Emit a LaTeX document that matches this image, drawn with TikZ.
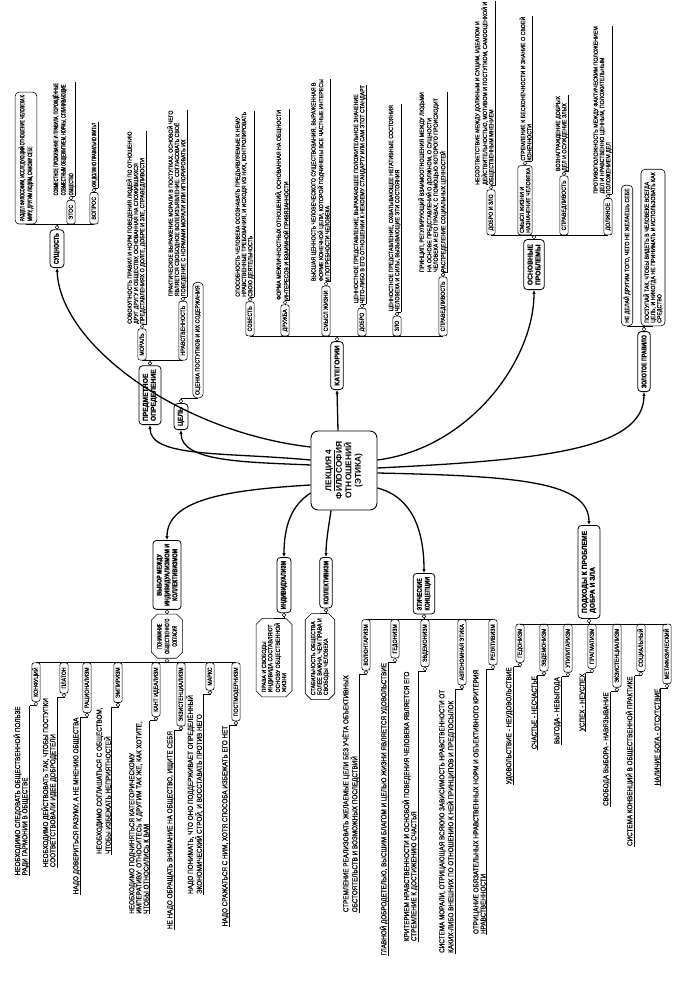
\documentclass[tikz,border=0pt]{standalone}
\usepackage{fontspec}
\setmainfont{Liberation Sans}
\newfontfamily\bfont{Liberation Sans Bold}[FakeStretch=0.75, FakeBold=1.2]
\newfontfamily\wfont{Liberation Sans Bold}[FakeStretch=0.95, FakeBold=1.0]
\newfontfamily\nfont{Liberation Sans}[FakeStretch=0.88, FakeBold=0.6]
\newfontfamily\qfont{Liberation Sans}[FakeStretch=0.6, FakeBold=0.6]
\usetikzlibrary{calc,shapes.misc,arrows.meta}
\newcommand{\fsm}{\nfont\fontsize{6}{6.3}\selectfont}
\newcommand{\fsl}{\nfont\fontsize{7.2}{7.2}\selectfont}
\newcommand{\fsq}{\qfont\fontsize{6.4}{7.6}\selectfont}
\newcommand{\fmid}{\bfont\fontsize{7}{7.8}\selectfont}
\newcommand{\fmidw}{\wfont\fontsize{7.1}{7.9}\selectfont}
\newcommand{\fbig}{\bfseries\fontsize{8.4}{9.5}\selectfont}
\tikzset{
  every node/.style={rotate=90},
  ln/.style={line width=0.55pt},
  knob/.style={line width=0.45pt, fill=white},
  lf/.style={font=\fsm, align=left, inner xsep=0.5pt, inner ysep=0.7pt},
  lfl/.style={font=\fsl, align=left, inner xsep=0.5pt, inner ysep=0.7pt},
  lfq/.style={font=\fsq, align=left, inner xsep=0.5pt, inner ysep=0.7pt},
  curleaf/.style={lf},
  sb/.style={draw, line width=0.6pt, rounded corners=2.2pt, font=\fsm, inner xsep=4.5pt, inner ysep=1.6pt, text height=4.3pt, text depth=0.7pt},
  sbm/.style={draw, line width=0.6pt, rounded corners=2.5pt, font=\fsm, align=left, inner xsep=2pt, inner ysep=1.8pt},
  tbox/.style={draw, line width=0.6pt, rounded corners=4pt, font=\fsm, align=left, inner xsep=3pt, inner ysep=2.4pt},
  chbox/.style={draw, line width=0.6pt, chamfered rectangle, chamfered rectangle xsep=2.5pt, font=\fsm, align=left, inner xsep=2pt, inner ysep=2.2pt},
  mb/.style={draw, line width=0.8pt, rounded corners=3.5pt, font=\fmid, align=left, inner xsep=3.5pt, inner ysep=3.8pt},
  mbw/.style={draw, line width=0.8pt, rounded corners=3.5pt, font=\fmidw, align=left, inner xsep=3.5pt, inner ysep=3.8pt},
  hub/.style={draw, line width=0.9pt, rounded corners=7pt, font=\fbig, align=center, minimum width=79pt, minimum height=66pt},
  conn/.style={line width=1.3pt, -{Latex[length=3.8pt,width=3.4pt]}},
}
% right-side child with leaf: style, name, bus, dx, label, leaf
\newcommand{\RC}[6]{%
  \node[#1, anchor=west] (#2) at ($(#3)+(#4,0)$) {#5};
  \node[curleaf, anchor=south west] (#2L) at ($(#2.south east)+(0,-4)$) {#6};
  \draw[ln] (#2L.south west) -- (#2L.south east);
  \draw[ln] (#2.east) |- (#2L.south west);
  \draw[knob] ($(#2.east)+(0,-2)$) circle (1.9pt);
}
% left-side child with leaf
\newcommand{\LC}[6]{%
  \node[#1, anchor=east] (#2) at ($(#3)+(#4,0)$) {#5};
  \node[curleaf, anchor=south east] (#2L) at ($(#2.north west)+(-2,4)$) {#6};
  \draw[ln] (#2L.south east) -- (#2L.south west);
  \draw[ln] (#2.west) |- (#2L.south east);
  \draw[knob] ($(#2.west)+(0,2)$) circle (1.9pt);
}
\begin{document}
\begin{tikzpicture}[x=1pt,y=-1pt]
\useasboundingbox (0,0) rectangle (677,984);

\node[hub] (C) at (344,470.5) {\underline{ЛЕКЦИЯ 4}\\ФИЛОСОФИЯ\\ОТНОШЕНИЙ\\(ЭТИКА)};

% level 1
\node[mb, anchor=west] (sush) at (57,268) {СУЩНОСТЬ};
\node[mbw, anchor=west] (pred) at (150,425) {ПРЕДМЕТНОЕ\\ОПРЕДЕЛЕНИЕ};
\node[mbw, anchor=west] (cel) at (181,430) {ЦЕЛЬ};
\node[mbw, anchor=west, minimum width=48pt] (kat) at (337,390) {КАТЕГОРИИ};
\node[mbw, anchor=west, minimum width=50pt] (osn) at (534,290) {ОСНОВНЫЕ\\ПРОБЛЕМЫ};
\node[mb, anchor=west] (zol) at (644,392) {ЗОЛОТОЕ ПРАВИЛО};
\node[mbw, anchor=east, minimum width=93pt] (podh) at (589,525) {ПОДХОДЫ К ПРОБЛЕМЕ\\ДОБРА И ЗЛА};
\node[mb, anchor=east] (eti) at (424,573) {ЭТИЧЕСКИЕ\\КОНЦЕПЦИИ};
\node[mb, anchor=east] (kol) at (326,557) {КОЛЛЕКТИВИЗМ};
\node[mb, anchor=east] (ind) at (284,557) {ИНДИВИДУАЛИЗМ};
\node[mb, anchor=east, align=center] (vyb) at (167,540) {ВЫБОР МЕЖДУ\\ИНДИВИДУАЛИЗМОМ И\\КОЛЛЕКТИВИЗМОМ};

% main connectors
\draw[conn] ($(C.north)+(0,-23.5)$) .. controls (180,432) and (60,345) .. (sush.west);
\draw[conn] ($(C.north)+(0,-10.5)$) .. controls (225,452) and (150,458) .. (pred.west);
\draw[conn] ($(C.north)+(0,-5.5)$) .. controls (245,462) and (181,462) .. (cel.west);
\draw[conn] ($(C.north)+(0,14.5)$) .. controls (225,490) and (167,500) .. (vyb.east);
\draw[conn] ($(C.north)+(0,22.5)$) .. controls (292,505) and (284,525) .. (ind.east);
\draw[conn] ($(C.west)+(-13,0)$) .. controls (329,525) and (326,540) .. (kol.east);
\draw[conn] ($(C.east)+(-6,0)$) -- (kat.west);
\draw[conn] ($(C.south)+(0,-10.5)$) .. controls (470,448) and (534,360) .. (osn.west);
\draw[conn] ($(C.south)+(0,-2.5)$) .. controls (540,460) and (644,450) .. (zol.west);
\draw[conn] ($(C.south)+(0,2.5)$) .. controls (520,476) and (589,482) .. (podh.east);
\draw[conn] ($(C.south)+(0,17.5)$) .. controls (412,497) and (424,530) .. (eti.east);

% СУЩНОСТЬ
\tikzset{curleaf/.style={lfq}}
\coordinate (sushB) at ($(sush.east)+(0,-5)$);
\node[tbox, font=\fsq, inner ysep=3.5pt, anchor=west] (razdel) at ($(sushB)+(-31,0)$) {РАЗДЕЛ ФИЛОСОФИИ, ИССЛЕДУЮЩИЙ ОТНОШЕНИЕ ЧЕЛОВЕКА К\\МИРУ, ДРУГИМ ЛЮДЯМ, САМОМУ СЕБЕ};
\RC{sb}{etos}{sushB}{14}{ЭТОС}{СОВМЕСТНОЕ ПРОЖИВАНИЕ И ПРАВИЛА, ПОРОЖДЁННЫЕ\\СОВМЕСТНЫМ ОБЩЕЖИТИЕМ, НОРМЫ, СПЛАЧИВАЮЩИЕ\\ОБЩЕСТВО}
\RC{sb}{vopros}{sushB}{37}{ВОПРОС}{КАК ДОЛЖНО ПРАВИЛЬНО ЖИТЬ?}
\draw[ln] (razdel.west) -- (vopros.west);
\draw[ln] (sush.east) -- (sushB);
\draw[knob] ($(sush.east)+(0,-2)$) circle (1.9pt);

% ПРЕДМЕТНОЕ ОПРЕДЕЛЕНИЕ
\tikzset{curleaf/.style={lf}}
\coordinate (predB) at ($(pred.east)+(0,-5)$);
\RC{sb}{moral}{predB}{-8}{МОРАЛЬ}{СОВОКУПНОСТЬ ПРАВИЛ И НОРМ ПОВЕДЕНИЯ ЛЮДЕЙ ПО ОТНОШЕНИЮ\\ДРУГ ДРУГУ И ОБЩЕСТВУ, ОСНОВАННАЯ НА СЛОЖИВШИХСЯ\\ПРЕДСТАВЛЕНИЯХ О ДОЛГЕ, ДОБРЕ И ЗЛЕ, СПРАВЕДЛИВОСТИ}
\RC{sb}{nrav}{predB}{33}{НРАВСТВЕННОСТЬ}{ПРАКТИЧЕСКОЕ ВЫРАЖЕНИЕ МОРАЛИ В ПОСТУПКАХ, ОСНОВОЙ ЧЕГО\\ЯВЛЯЕТСЯ СВОБОДНОЕ ВОЛЕИЗЪЯВЛЕНИЕ: СОГЛАСОВАТЬ СВОЁ\\ПОВЕДЕНИЕ С НОРМАМИ МОРАЛИ ИЛИ ИГНОРИРОВАТЬ ИХ}
\draw[ln] (moral.west) -- (nrav.west);
\draw[ln] (pred.east) -- (predB);
\draw[knob] ($(pred.east)+(0,-2)$) circle (1.9pt);

% ЦЕЛЬ
\coordinate (celB) at ($(cel.east)+(0,-5)$);
\node[tbox, anchor=west] (ocenka) at ($(celB)+(17,0)$) {ОЦЕНКА ПОСТУПКОВ И ИХ СОДЕРЖАНИЯ};
\draw[ln] (cel.east) |- (ocenka.west);
\draw[knob] ($(cel.east)+(0,-2)$) circle (1.9pt);

% КАТЕГОРИИ
\coordinate (katB) at ($(kat.east)+(0,-5)$);
\RC{sb}{sovest}{katB}{-87}{СОВЕСТЬ}{СПОСОБНОСТЬ ЧЕЛОВЕКА ОСОЗНАВАТЬ ПРЕДЪЯВЛЯЕМЫЕ К НЕМУ\\НРАВСТВЕННЫЕ ТРЕБОВАНИЯ, И ИСХОДЯ ИЗ НИХ, КОНТРОЛИРОВАТЬ\\СВОЮ ДЕЯТЕЛЬНОСТЬ}
\RC{sb}{druzhba}{katB}{-52}{ДРУЖБА}{ФОРМА МЕЖЛИЧНОСТНЫХ ОТНОШЕНИЙ, ОСНОВАННАЯ НА ОБЩНОСТИ\\ИНТЕРЕСОВ И ВЗАИМНОЙ ПРИВЯЗАННОСТИ}
\RC{sb}{smysl}{katB}{-11}{СМЫСЛ ЖИЗНИ}{ВЫСШАЯ ЦЕННОСТЬ ЧЕЛОВЕЧЕСКОГО СУЩЕСТВОВАНИЯ, ВЫРАЖЕННАЯ В\\ФОРМЕ КОНЕЧНОЙ ЦЕЛИ, КОТОРОЙ ПОДЧИНЕНЫ ВСЕ ЧАСТНЫЕ ИНТЕРЕСЫ\\И ПОТРЕБНОСТИ ЧЕЛОВЕКА}
\RC{sb}{dobro}{katB}{25}{ДОБРО}{ЦЕННОСТНОЕ ПРЕДСТАВЛЕНИЕ, ВЫРАЖАЮЩЕЕ ПОЛОЖИТЕЛЬНОЕ ЗНАЧЕНИЕ\\ЧЕГО-ЛИБО В ЕГО ОТНОШЕНИИ К НЕКОЕМУ СТАНДАРТУ ИЛИ САМ ЭТОТ СТАНДАРТ}
\RC{sb}{zlo}{katB}{60}{ЗЛО}{ЦЕННОСТНОЕ ПРЕДСТАВЛЕНИЕ, ОХВАТЫВАЮЩЕЕ НЕГАТИВНЫЕ СОСТОЯНИЯ\\ЧЕЛОВЕКА И СИЛЫ, ВЫЗЫВАЮЩИЕ ЭТИ СОСТОЯНИЯ}
\RC{sb}{sprav}{katB}{106}{СПРАВЕДЛИВОСТЬ}{ПРИНЦИП, РЕГУЛИРУЮЩИЙ ВЗАИМООТНОШЕНИЯ МЕЖДУ ЛЮДЬМИ\\НА ОСНОВЕ ПРЕДСТАВЛЕНИЙ О ДОЛЖНОМ, О СУЩНОСТИ\\ЧЕЛОВЕКА И ЕГО ПРАВАХ, С ПОМОЩЬЮ КОТОРОГО ПРОИСХОДИТ\\РАСПРЕДЕЛЕНИЕ СОЦИАЛЬНЫХ ЦЕННОСТЕЙ}
\draw[ln] (sovest.west) -- (sprav.west);
\draw[ln] (kat.east) -- (katB);
\draw[knob] ($(kat.east)+(0,-2)$) circle (1.9pt);

% ОСНОВНЫЕ ПРОБЛЕМЫ
\coordinate (osnB) at ($(osn.east)+(0,-4)$);
\RC{sb}{dz}{osnB}{-43}{ДОБРО И ЗЛО}{НЕСООТВЕТСТВИЕ МЕЖДУ ДОЛЖНЫМ И СУЩИМ, ИДЕАЛОМ И\\ДЕЙСТВИТЕЛЬНОСТЬЮ, МОТИВОМ И ПОСТУПКОМ, САМООЦЕНКОЙ И\\ОБЩЕСТВЕННЫМ МНЕНИЕМ}
\RC{sbm}{smn}{osnB}{-9}{СМЫСЛ ЖИЗНИ И\\НАЗНАЧЕНИЕ ЧЕЛОВЕКА}{СТРЕМЛЕНИЕ К БЕСКОНЕЧНОСТИ И ЗНАНИЕ О СВОЕЙ\\КОНЕЧНОСТИ}
\RC{sb}{sprb}{osnB}{30}{СПРАВЕДЛИВОСТЬ}{ВОЗНАГРАЖДЕНИЕ ДОБРЫХ\\ДЕЛ И ОСУЖДЕНИЕ ЗЛЫХ}
\RC{sb}{dolzh}{osnB}{74}{ДОЛЖНОЕ}{ПРОТИВОПОЛОЖНОСТЬ МЕЖДУ ФАКТИЧЕСКИМ ПОЛОЖЕНИЕМ\\ДЕЛ И НРАВСТВЕННО ЦЕННЫМ, ПОЛОЖИТЕЛЬНЫМ\\ПОЛОЖЕНИЕМ ДЕЛ}
\draw[ln] (dz.west) -- (dolzh.west);
\draw[ln] (osn.east) -- (osnB);
\draw[knob] ($(osn.east)+(0,-2)$) circle (1.9pt);

% ЗОЛОТОЕ ПРАВИЛО
\coordinate (zolB) at ($(zol.east)+(0,-5)$);
\node[tbox, anchor=west] (nedelay) at ($(zolB)+(-17,0)$) {НЕ ДЕЛАЙ ДРУГИМ ТОГО, ЧЕГО НЕ ЖЕЛАЕШЬ СЕБЕ};
\node[tbox, anchor=west] (postup) at ($(zolB)+(9,0)$) {ПОСТУПАЙ ТАК, ЧТОБЫ ВИДЕТЬ В ЧЕЛОВЕКЕ ВСЕГДА\\ЦЕЛЬ, И НИКОГДА НЕ ПРИНИМАТЬ И ИСПОЛЬЗОВАТЬ КАК\\СРЕДСТВО};
\draw[ln] (nedelay.west) -- (postup.west);
\draw[ln] (zol.east) -- (zolB);
\draw[knob] ($(zol.east)+(0,-2)$) circle (1.9pt);

% ПОДХОДЫ
\tikzset{curleaf/.style={lfl}}
\coordinate (podhB) at ($(podh.west)+(0,5)$);
\LC{sb}{ged}{podhB}{-69}{ГЕДОНИЗМ}{УДОВОЛЬСТВИЕ - НЕУДОВОЛЬСТВИЕ}
\LC{sb}{evd}{podhB}{-45}{ЭВДЕМОНИЗМ}{СЧАСТЬЕ - НЕСЧАСТЬЕ}
\LC{sb}{util}{podhB}{-21}{УТИЛИТАРИЗМ}{ВЫГОДА - НЕВЫГОДА}
\LC{sb}{prag}{podhB}{3}{ПРАГМАТИЗМ}{УСПЕХ - НЕУСПЕХ}
\LC{sb}{ekz}{podhB}{28}{ЭКЗИСТЕНЦИАЛИЗМ}{СВОБОДА ВЫБОРА - НАВЯЗЫВАНИЕ}
\LC{sb}{soc}{podhB}{52}{СОЦИАЛЬНЫЙ}{СИСТЕМА КОНВЕНЦИЙ В ОБЩЕСТВЕННОЙ ПРАКТИКЕ}
\LC{sb}{meta}{podhB}{78}{МЕТАФИЗИЧЕСКИЙ}{НАЛИЧИЕ БОГА - ОТСУТСТВИЕ}
\draw[ln] (ged.east) -- (meta.east);
\draw[ln] (podh.west) -- (podhB);
\draw[knob] ($(podh.west)+(0,2)$) circle (1.9pt);

% ЭТИЧЕСКИЕ КОНЦЕПЦИИ
\coordinate (etiB) at ($(eti.west)+(0,5)$);
\LC{sb}{vol}{etiB}{-58}{ВОЛЮНТАРИЗМ}{СТРЕМЛЕНИЕ РЕАЛИЗОВАТЬ ЖЕЛАЕМЫЕ ЦЕЛИ БЕЗ УЧЁТА ОБЪЕКТИВНЫХ\\ОБСТОЯТЕЛЬСТВ И ВОЗМОЖНЫХ ПОСЛЕДСТВИЙ}
\LC{sb}{ged2}{etiB}{-29}{ГЕДОНИЗМ}{ГЛАВНОЙ ДОБРОДЕТЕЛЬЮ, ВЫСШИМ БЛАГОМ И ЦЕЛЬЮ ЖИЗНИ ЯВЛЯЕТСЯ УДОВОЛЬСТВИЕ}
\LC{sb}{evd2}{etiB}{1}{ЭВДЕМОНИЗМ}{КРИТЕРИЕМ НРАВСТВЕННОСТИ И ОСНОВОЙ ПОВЕДЕНИЯ ЧЕЛОВЕКА ЯВЛЯЕТСЯ ЕГО\\СТРЕМЛЕНИЕ К ДОСТИЖЕНИЮ СЧАСТЬЯ}
\LC{sb}{avt}{etiB}{38}{АВТОНОМНАЯ ЭТИКА}{СИСТЕМА МОРАЛИ, ОТРИЦАЮЩАЯ ВСЯКУЮ ЗАВИСИМОСТЬ НРАВСТВЕННОСТИ ОТ\\КАКИХ-ЛИБО ВНЕШНИХ ПО ОТНОШЕНИЮ К НЕЙ ПРИНЦИПОВ И ПРЕДПОСЫЛОК}
\LC{sb}{rel}{etiB}{69}{РЕЛЯТИВИЗМ}{ОТРИЦАНИЕ ОБЯЗАТЕЛЬНЫХ НРАВСТВЕННЫХ НОРМ И ОБЪЕКТИВНОГО КРИТЕРИЯ\\НРАВСТВЕННОСТИ}
\draw[ln] (vol.east) -- (rel.east);
\draw[ln] (eti.west) -- (etiB);
\draw[knob] ($(eti.west)+(0,2)$) circle (1.9pt);

% ИНДИВИДУАЛИЗМ / КОЛЛЕКТИВИЗМ
\coordinate (indB) at ($(ind.west)+(0,5)$);
\node[chbox, anchor=east] (prava) at ($(indB)+(-10,0)$) {ПРАВА И СВОБОДЫ\\ИНДИВИДА СОСТАВЛЯЮТ\\ОСНОВУ ОБЩЕСТВЕННОЙ\\ЖИЗНИ};
\draw[ln] (ind.west) |- (prava.east);
\draw[knob] ($(ind.west)+(0,2)$) circle (1.9pt);
\coordinate (kolB) at ($(kol.west)+(0,5)$);
\node[chbox, anchor=east] (stab) at ($(kolB)+(-6,0)$) {СТАБИЛЬНОСТЬ ОБЩЕСТВА\\БОЛЕЕ ВАЖНА, ЧЕМ ПРАВА И\\СВОБОДЫ ЧЕЛОВЕКА};
\draw[ln] (kol.west) |- (stab.east);
\draw[knob] ($(kol.west)+(0,2)$) circle (1.9pt);

% ВЫБОР
\coordinate (vybB) at ($(vyb.west)+(0,4)$);
\node[chbox, font=\fsq, anchor=east, align=center] (pon) at (vybB) {ПОНИМАНИЕ\\ОБЩЕСТВЕННОГО\\СОГЛАСИЯ};
\draw[ln] (vyb.west) -- (pon.east);
\draw[knob] ($(vyb.west)+(0,2)$) circle (1.9pt);
\coordinate (ponB) at ($(pon.west)+(0,4)$);
\LC{sb}{kon}{ponB}{-131}{КОНФУЦИЙ}{НЕОБХОДИМО СЛЕДОВАТЬ ОБЩЕСТВЕННОЙ ПОЛЬЗЕ\\РАДИ ГАРМОНИИ В ОБЩЕСТВЕ}
\LC{sb}{pla}{ponB}{-103}{ПЛАТОН}{НЕОБХОДИМО ДЕЙСТВОВАТЬ ТАК, ЧТОБЫ ПОСТУПКИ\\СООТВЕТСТВОВАЛИ ИДЕЕ ДОБРОДЕТЕЛИ}
\LC{sb}{rac}{ponB}{-80}{РАЦИОНАЛИЗМ}{НАДО ДОВЕРИТЬСЯ РАЗУМУ, А НЕ МНЕНИЮ ОБЩЕСТВА}
\LC{sb}{emp}{ponB}{-49}{ЭМПИРИЗМ}{НЕОБХОДИМО СОГЛАШАТЬСЯ С ОБЩЕСТВОМ,\\ЧТОБЫ ИЗБЕЖАТЬ НЕПРИЯТНОСТЕЙ}
\LC{sb}{kant}{ponB}{-11}{КАНТ ИДЕАЛИЗМ}{НЕОБХОДИМО ПОДЧИНЯТЬСЯ КАТЕГОРИЧЕСКОМУ\\ИМПЕРАТИВУ: ОТНОСИТЕСЬ К ДРУГИМ ТАК ЖЕ, КАК ХОТИТЕ,\\ЧТОБЫ ОТНОСИЛИСЬ К ВАМ}
\LC{sb}{ekzb}{ponB}{14}{ЭКЗИСТЕНЦИАЛИЗМ}{НЕ НАДО ОБРАЩАТЬ ВНИМАНИЕ НА ОБЩЕСТВО, ИЩИТЕ СЕБЯ}
\LC{sb}{marx}{ponB}{43}{МАРКС}{НАДО ПОНИМАТЬ, ЧТО ОНО ПОДДЕРЖИВАЕТ ОПРЕДЕЛЁННЫЙ\\ЭКОНОМИЧЕСКИЙ СТРОЙ, И ВОССТАВАТЬ ПРОТИВ НЕГО}
\LC{sb}{post}{ponB}{69}{ПОСТМОДЕРНИЗМ}{НАДО СРАЖАТЬСЯ С НИМ, ХОТЯ СПОСОБА ИЗБЕЖАТЬ ЕГО НЕТ}
\draw[ln] (kon.east) -- (post.east);
\draw[ln] (pon.west) -- (ponB);
\draw[knob] ($(pon.west)+(0,2)$) circle (1.9pt);
\end{tikzpicture}
\end{document}
